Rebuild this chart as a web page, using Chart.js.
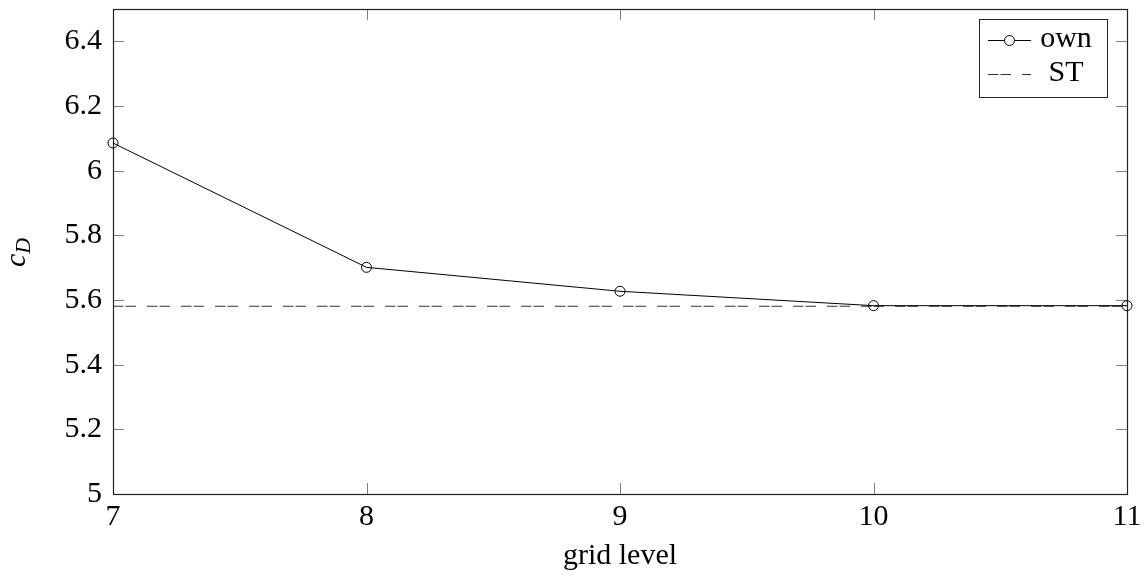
<!DOCTYPE html>
<html><head><meta charset="utf-8">
<script src="https://cdn.jsdelivr.net/npm/chart.js@4"></script>
<style>
html,body{margin:0;padding:0;background:#fff}
#wrap{width:1146px;height:577px;position:relative}
#fontprime{position:absolute;left:-5000px;top:0;font-family:"Liberation Serif";font-size:30px}
</style>
</head><body>
<div id="fontprime">grid level 0123456789 own ST <i>cD</i></div>
<div id="wrap"><canvas id="c" width="1146" height="577"></canvas></div>
<script>
const gridLevels = [7, 8, 9, 10, 11];
const ownValues = [6.0855, 5.701, 5.627, 5.5825, 5.5825];
const stLevels = [7, 11];
const stValues = [5.5805, 5.5805];
const seriesNames = ['own', 'ST'];
const xTickValues = [7, 8, 9, 10, 11];
const xTickLabels = ['7', '8', '9', '10', '11'];
const yTickValues = [5, 5.2, 5.4, 5.6, 5.8, 6, 6.2, 6.4];
const yTickLabels = ['5', '5.2', '5.4', '5.6', '5.8', '6', '6.2', '6.4'];
const xTitle = 'grid level';
const yTitleMain = 'c';
const yTitleSub = 'D';

const FONT = '"Liberation Serif"';
const FS = 30;

const framePlugin = {
  id: 'frame',
  beforeDatasetsDraw(chart) {
    const {ctx, chartArea: ca, scales: {x, y}} = chart;
    ctx.save();
    ctx.strokeStyle = '#808080';
    ctx.lineWidth = 1;
    const TL = 11;
    ctx.beginPath();
    yTickValues.forEach(v => {
      const py = Math.round(y.getPixelForValue(v)) + 0.5;
      ctx.moveTo(ca.left, py); ctx.lineTo(ca.left + TL, py);
      ctx.moveTo(ca.right, py); ctx.lineTo(ca.right - TL, py);
    });
    xTickValues.forEach(v => {
      const px = Math.round(x.getPixelForValue(v)) + 0.5;
      ctx.moveTo(px, ca.bottom); ctx.lineTo(px, ca.bottom - TL);
      ctx.moveTo(px, ca.top); ctx.lineTo(px, ca.top + TL);
    });
    ctx.stroke();
    ctx.strokeStyle = '#222';
    ctx.lineWidth = 1.2;
    ctx.strokeRect(Math.round(ca.left) + 0.5, Math.round(ca.top) + 0.5,
                   Math.round(ca.right - ca.left), Math.round(ca.bottom - ca.top));
    ctx.restore();
  },
  afterDraw(chart) {
    const {ctx, chartArea: ca} = chart;
    // y axis title c_D
    ctx.save();
    ctx.fillStyle = '#000';
    ctx.translate(20, (ca.top + ca.bottom) / 2 + 1);
    ctx.rotate(-Math.PI / 2);
    ctx.textBaseline = 'alphabetic';
    ctx.font = 'italic ' + FS + 'px ' + FONT;
    const wc = ctx.measureText(yTitleMain).width;
    ctx.font = 'italic 22px ' + FONT;
    const wd = ctx.measureText(yTitleSub).width;
    const x0 = -(wc + wd) / 2;
    ctx.font = 'italic ' + FS + 'px ' + FONT;
    ctx.fillText(yTitleMain, x0, 5);
    ctx.font = 'italic 22px ' + FONT;
    ctx.fillText(yTitleSub, x0 + wc, 10);
    ctx.restore();

    // legend
    const bx = 979, by = 19, bw = 128, bh = 78;
    ctx.save();
    ctx.fillStyle = '#fff';
    ctx.fillRect(bx, by, bw, bh);
    ctx.strokeStyle = '#222';
    ctx.lineWidth = 1;
    ctx.strokeRect(bx + 0.5, by + 0.5, bw, bh);
    const rows = [40, 74];
    chart.data.datasets.forEach((ds, i) => {
      const ly = rows[i] + 0.5;
      ctx.strokeStyle = ds.borderColor;
      ctx.lineWidth = ds.borderWidth;
      ctx.setLineDash(ds.borderDash || []);
      ctx.beginPath();
      ctx.moveTo(988, ly); ctx.lineTo(1031, ly);
      ctx.stroke();
      ctx.setLineDash([]);
      if (ds.pointRadius > 0) {
        ctx.beginPath();
        ctx.arc(1009.5, ly, ds.pointRadius, 0, Math.PI * 2);
        ctx.fillStyle = '#fff';
        ctx.fill();
        ctx.strokeStyle = ds.pointBorderColor;
        ctx.lineWidth = 1;
        ctx.stroke();
      }
      ctx.fillStyle = '#000';
      ctx.font = FS + 'px ' + FONT;
      ctx.textAlign = 'center';
      ctx.textBaseline = 'alphabetic';
      ctx.fillText(ds.label, 1066, rows[i] + 7);
    });
    ctx.restore();
  }
};

function draw() {
  Chart.defaults.font.family = FONT;
  Chart.defaults.font.size = FS;
  Chart.defaults.color = '#000';
  new Chart(document.getElementById('c'), {
    type: 'line',
    data: {
      datasets: [
        {
          label: seriesNames[0],
          data: gridLevels.map((g, i) => ({x: g, y: ownValues[i]})),
          borderColor: '#000',
          borderWidth: 1,
          pointStyle: 'circle',
          pointRadius: 5,
          pointBorderColor: '#000',
          pointBackgroundColor: 'rgba(0,0,0,0)',
          pointBorderWidth: 1,
          tension: 0,
          clip: false
        },
        {
          label: seriesNames[1],
          data: stLevels.map((g, i) => ({x: g, y: stValues[i]})),
          borderColor: '#333',
          borderWidth: 1.1,
          borderDash: [10.5, 2, 10.5, 11],
          pointRadius: 0,
          tension: 0,
          clip: false
        }
      ]
    },
    options: {
      responsive: false,
      animation: false,
      devicePixelRatio: 1,
      layout: {padding: {left: 0, right: 19, top: 9, bottom: 0}},
      plugins: {legend: {display: false}, tooltip: {enabled: false}},
      scales: {
        x: {
          type: 'linear',
          min: 7, max: 11,
          border: {display: false},
          grid: {display: false, drawTicks: false},
          afterBuildTicks(s) { s.ticks = xTickValues.map(v => ({value: v})); },
          afterFit(s) { s.height = 83; s.paddingLeft = 0; s.paddingRight = 0; },
          ticks: {
            padding: 5,
            color: '#000',
            font: {family: FONT, size: FS},
            maxRotation: 0,
            callback: (v) => xTickLabels[xTickValues.indexOf(v)]
          },
          title: {
            display: true, text: xTitle, color: '#000',
            font: {family: FONT, size: FS},
            padding: {top: 0, bottom: 3}
          }
        },
        y: {
          type: 'linear',
          min: 5, max: 6.5,
          border: {display: false},
          grid: {display: false, drawTicks: false},
          afterBuildTicks(s) { s.ticks = yTickValues.map(v => ({value: v})); },
          afterFit(s) { s.width = 113; s.paddingTop = 0; s.paddingBottom = 0; },
          ticks: {
            padding: 11,
            color: '#000',
            font: {family: FONT, size: FS},
            callback: (v) => {
              const i = yTickValues.findIndex(t => Math.abs(t - v) < 1e-9);
              return i >= 0 ? yTickLabels[i] : '';
            }
          }
        }
      }
    },
    plugins: [framePlugin]
  });
}

let drawn = false;
function go() { if (drawn) return; drawn = true; draw(); }
Promise.all([
  document.fonts.load('30px "Liberation Serif"'),
  document.fonts.load('italic 30px "Liberation Serif"')
]).then(() => document.fonts.ready).then(() => requestAnimationFrame(go), go);
setTimeout(go, 400);
</script></body></html>
